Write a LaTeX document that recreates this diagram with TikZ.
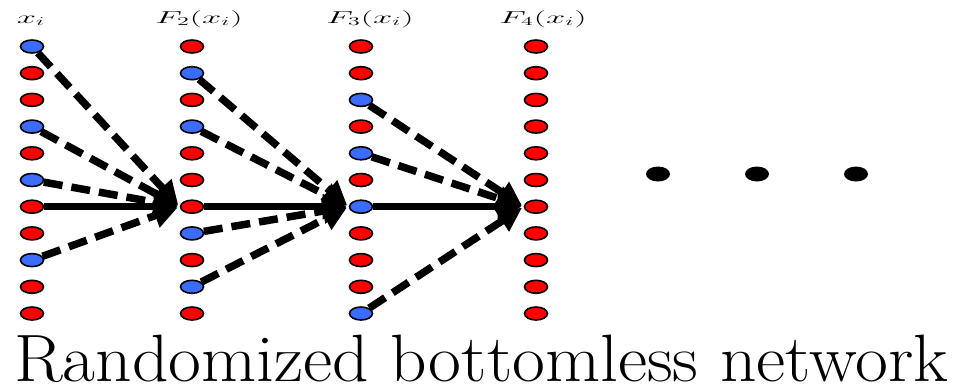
\documentclass[tikz,border=0pt]{standalone}
\usepackage{amsmath}
\usepackage{tikz}
\usetikzlibrary{shapes.geometric,arrows.meta}
\definecolor{unitred}{RGB}{255,0,0}
\definecolor{unitblue}{RGB}{58,108,255}

\begin{document}
\begin{tikzpicture}[x=1pt,y=-1pt,line width=1.6pt,
  redunit/.style={ellipse,draw,fill=unitred,minimum width=23pt,minimum height=13pt,inner sep=0pt},
  blueunit/.style={redunit,fill=unitblue},
  mainarrow/.style={line width=7.5pt,-{Triangle[length=24pt,width=24pt]},shorten >=2pt},
  skiparrow/.style={mainarrow,dash pattern=on 19pt off 9pt},
  dotnode/.style={ellipse,fill=black,minimum width=24pt,minimum height=15pt,inner sep=0pt},
  layerlabel/.style={anchor=base,inner sep=1pt,font=\fontsize{18}{20}\selectfont}]
\useasboundingbox (0,0) rectangle (973,388);
% column x_i
\node[blueunit] (a1) at (32,46.5) {};
\node[redunit] (a2) at (32,73.2) {};
\node[redunit] (a3) at (32,99.9) {};
\node[blueunit] (a4) at (32,126.6) {};
\node[redunit] (a5) at (32,153.3) {};
\node[blueunit] (a6) at (32,180.0) {};
\node[redunit] (a7) at (32,206.7) {};
\node[redunit] (a8) at (32,233.4) {};
\node[blueunit] (a9) at (32,260.1) {};
\node[redunit] (a10) at (32,286.8) {};
\node[redunit] (a11) at (32,313.5) {};
% column F_2
\node[redunit] (b1) at (192,46.5) {};
\node[blueunit] (b2) at (192,73.2) {};
\node[redunit] (b3) at (192,99.9) {};
\node[blueunit] (b4) at (192,126.6) {};
\node[redunit] (b5) at (192,153.3) {};
\node[redunit] (b6) at (192,180.0) {};
\node[redunit] (b7) at (192,206.7) {};
\node[blueunit] (b8) at (192,233.4) {};
\node[redunit] (b9) at (192,260.1) {};
\node[blueunit] (b10) at (192,286.8) {};
\node[redunit] (b11) at (192,313.5) {};
% column F_3
\node[redunit] (c1) at (361,46.5) {};
\node[redunit] (c2) at (361,73.2) {};
\node[blueunit] (c3) at (361,99.9) {};
\node[redunit] (c4) at (361,126.6) {};
\node[blueunit] (c5) at (361,153.3) {};
\node[redunit] (c6) at (361,180.0) {};
\node[blueunit] (c7) at (361,206.7) {};
\node[redunit] (c8) at (361,233.4) {};
\node[redunit] (c9) at (361,260.1) {};
\node[redunit] (c10) at (361,286.8) {};
\node[blueunit] (c11) at (361,313.5) {};
% column F_4
\node[redunit] (d1) at (536,46.5) {};
\node[redunit] (d2) at (536,73.2) {};
\node[redunit] (d3) at (536,99.9) {};
\node[redunit] (d4) at (536,126.6) {};
\node[redunit] (d5) at (536,153.3) {};
\node[redunit] (d6) at (536,180.0) {};
\node[redunit] (d7) at (536,206.7) {};
\node[redunit] (d8) at (536,233.4) {};
\node[redunit] (d9) at (536,260.1) {};
\node[redunit] (d10) at (536,286.8) {};
\node[redunit] (d11) at (536,313.5) {};
% layer labels
\node[layerlabel] (lx) at (31,23) {\scalebox{2}[1]{$x_i$}};
\node[layerlabel] (lf2) at (199,23) {\scalebox{2}[1]{$F_2(x_i)$}};
\node[layerlabel] (lf3) at (370,23) {\scalebox{2}[1]{$F_3(x_i)$}};
\node[layerlabel] (lf4) at (543,23) {\scalebox{2}[1]{$F_4(x_i)$}};
% connections
\draw[skiparrow] (a1) -- (b7.west);
\draw[skiparrow] (a4) -- (b7.west);
\draw[skiparrow] (a6) -- (b7.west);
\draw[mainarrow] (a7) -- (b7.west);
\draw[skiparrow] (a9) -- (b7.west);
\draw[skiparrow] (b2) -- (c7.west);
\draw[skiparrow] (b4) -- (c7.west);
\draw[mainarrow] (b7) -- (c7.west);
\draw[skiparrow] (b8) -- (c7.west);
\draw[skiparrow] (b10) -- (c7.west);
\draw[skiparrow] (c3) -- (d7.west);
\draw[skiparrow] (c5) -- (d7.west);
\draw[mainarrow] (c7) -- (d7.west);
\draw[skiparrow] (c11) -- (d7.west);
% dots
\node[dotnode] (dot1) at (658,174) {};
\node[dotnode] (dot2) at (757,174) {};
\node[dotnode] (dot3) at (856,174) {};
\node[anchor=base,inner sep=0pt] (title) at (481,381) {\fontsize{67}{70}\selectfont\scalebox{1.067}[1]{Randomized bottomless network}};
\end{tikzpicture}
\end{document}
